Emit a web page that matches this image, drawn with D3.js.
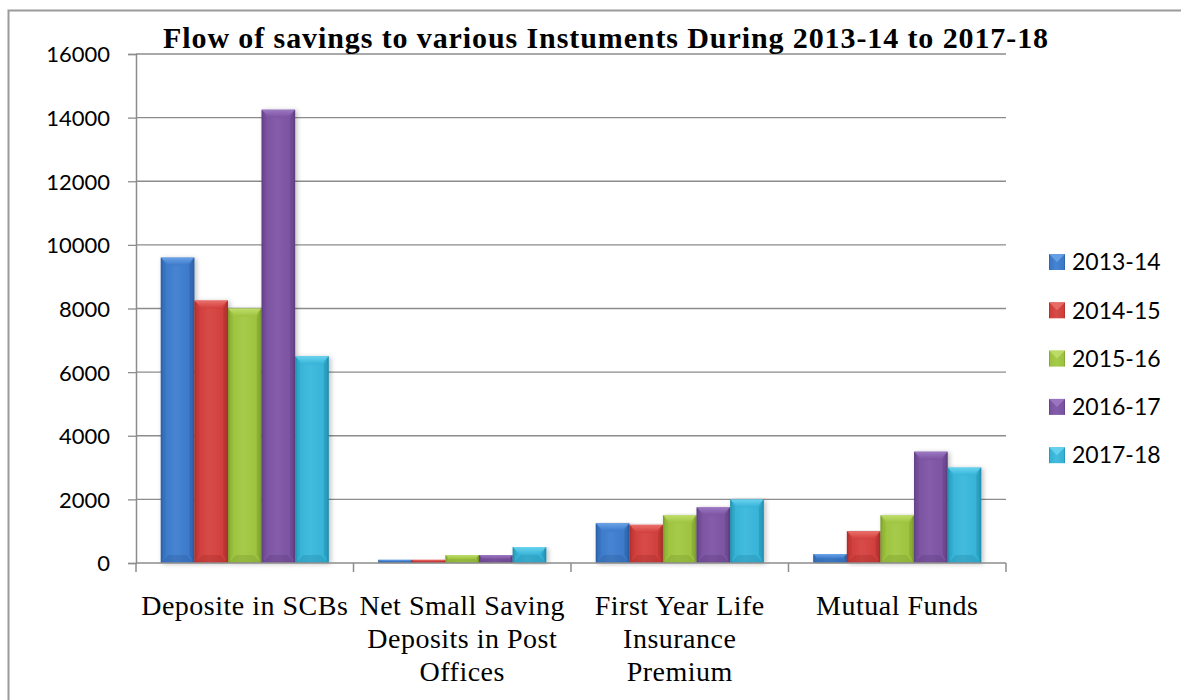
<!DOCTYPE html>
<html>
<head>
<meta charset="utf-8">
<script src="https://cdn.jsdelivr.net/npm/d3@7/dist/d3.min.js"></script>
<style>
  html, body { margin: 0; padding: 0; background: #fff; }
  svg { display: block; }
</style>
</head>
<body>
<svg id="chart" width="1181" height="700"></svg>
<script>
// ---- data ----
const categories = ["Deposite in SCBs", "Net Small Saving Deposits in Post Offices", "First Year Life Insurance Premium", "Mutual Funds"];
const categoryLines = [
  ["Deposite in SCBs"],
  ["Net Small Saving", "Deposits in Post", "Offices"],
  ["First Year Life", "Insurance", "Premium"],
  ["Mutual Funds"]
];
const seriesNames = ["2013-14", "2014-15", "2015-16", "2016-17", "2017-18"];
const s2013 = [9600, 100, 1250, 280];
const s2014 = [8250, 100, 1200, 1000];
const s2015 = [8000, 250, 1500, 1500];
const s2016 = [14250, 250, 1750, 3500];
const s2017 = [6500, 500, 2000, 3000];
const seriesValues = [s2013, s2014, s2015, s2016, s2017];
const yTicks = [0, 2000, 4000, 6000, 8000, 10000, 12000, 14000, 16000];
const title = "Flow of savings to various Instuments During 2013-14 to 2017-18";

// ---- styles ----
const colors = ["#3a78c8", "#cf3d3a", "#9cc23e", "#7a52a0", "#34b2d6"];
const light  = ["#6fa6ea", "#ee7470", "#c3e06e", "#a07cc6", "#6fd6f2"];
const dark   = ["#2a5c9e", "#a72c2a", "#789a2c", "#5c3c7e", "#218aa8"];

const svg = d3.select("#chart");
const margin = { left: 136, right: 1006, top: 54, bottom: 563 };

// frame
svg.append("rect").attr("x", 8.5).attr("y", 10.5).attr("width", 1190).attr("height", 700)
  .attr("fill", "none").attr("stroke", "#9a9a9a").attr("stroke-width", 2);

const x0 = d3.scaleBand().domain(categories).range([margin.left, margin.right]).paddingInner(0).paddingOuter(0);
// group occupies 168/217.5 of each band -> outer padding per side
const groupPad = (x0.bandwidth() - 168) / 2;
const x1 = d3.scaleBand().domain(seriesNames).range([groupPad, x0.bandwidth() - groupPad]).padding(0);
const y = d3.scaleLinear().domain([0, 16000]).range([margin.bottom, margin.top]);

// defs: gradients
const defs = svg.append("defs");
seriesNames.forEach((s, i) => {
  const g = defs.append("linearGradient").attr("id", "g" + i).attr("x1", 0).attr("x2", 1).attr("y1", 0).attr("y2", 0);
  g.append("stop").attr("offset", "0%").attr("stop-color", dark[i]);
  g.append("stop").attr("offset", "8%").attr("stop-color", colors[i]);
  g.append("stop").attr("offset", "45%").attr("stop-color", d3.interpolateRgb(colors[i], light[i])(0.25));
  g.append("stop").attr("offset", "92%").attr("stop-color", colors[i]);
  g.append("stop").attr("offset", "100%").attr("stop-color", dark[i]);
  const t = defs.append("linearGradient").attr("id", "t" + i).attr("x1", 0).attr("x2", 0).attr("y1", 0).attr("y2", 1);
  t.append("stop").attr("offset", "0%").attr("stop-color", light[i]);
  t.append("stop").attr("offset", "100%").attr("stop-color", colors[i]);
});
const shadow = defs.append("filter").attr("id", "shadow").attr("x", "-20%").attr("y", "-5%").attr("width", "150%").attr("height", "115%");
shadow.append("feGaussianBlur").attr("in", "SourceAlpha").attr("stdDeviation", 2.5);
shadow.append("feOffset").attr("dx", 2).attr("dy", 1).attr("result", "b");
shadow.append("feComponentTransfer").append("feFuncA").attr("type", "linear").attr("slope", 0.25);
const fm = shadow.append("feMerge");
fm.append("feMergeNode");
fm.append("feMergeNode").attr("in", "SourceGraphic");

// gridlines
svg.append("g").selectAll("line").data(yTicks.filter(d => d > 0)).join("line")
  .attr("x1", margin.left).attr("x2", margin.right)
  .attr("y1", d => y(d)).attr("y2", d => y(d))
  .attr("stroke", "#8c8c8c").attr("stroke-width", 1.3);

// y axis
const yAxis = svg.append("g").attr("transform", `translate(${margin.left},0)`)
  .call(d3.axisLeft(y).tickValues(yTicks).tickSize(8).tickPadding(18).tickFormat(d3.format("d")));
yAxis.select(".domain").attr("stroke", "#8c8c8c").attr("stroke-width", 1.5);
yAxis.selectAll(".tick line").attr("stroke", "#8c8c8c").attr("stroke-width", 1.3);
yAxis.selectAll(".tick text").attr("font-family", "Lato, 'Open Sans', sans-serif").attr("font-size", 22).attr("fill", "#000").attr("dy", "0.36em");

// bars
const bars = svg.append("g");
categories.forEach((c, ci) => {
  seriesNames.forEach((s, si) => {
    const v = seriesValues[si][ci];
    const bx = x0(c) + x1(s);
    const bw = x1.bandwidth();
    const by = y(v);
    const bh = y(0) - y(v);
    const g = bars.append("g").attr("filter", "url(#shadow)");
    g.append("rect").attr("x", bx).attr("y", by).attr("width", bw).attr("height", bh).attr("fill", `url(#g${si})`);
    const bev = Math.min(8, bh / 2, bw / 4);
    g.append("path").attr("d", `M${bx},${by} L${bx + bw},${by} L${bx + bw - bev},${by + bev} L${bx + bev},${by + bev} Z`)
      .attr("fill", `url(#t${si})`).attr("opacity", 0.9);
    g.append("path").attr("d", `M${bx},${by + bh} L${bx + bw},${by + bh} L${bx + bw - bev},${by + bh - bev} L${bx + bev},${by + bh - bev} Z`)
      .attr("fill", dark[si]).attr("opacity", 0.35);
    g.append("path").attr("d", `M${bx},${by} L${bx + bev * 0.6},${by + bev} L${bx + bev * 0.6},${by + bh - bev} L${bx},${by + bh} Z`)
      .attr("fill", dark[si]).attr("opacity", 0.25);
    g.append("path").attr("d", `M${bx + bw},${by} L${bx + bw - bev * 0.6},${by + bev} L${bx + bw - bev * 0.6},${by + bh - bev} L${bx + bw},${by + bh} Z`)
      .attr("fill", dark[si]).attr("opacity", 0.45);
  });
});

// x axis
const xAxis = svg.append("g").attr("transform", `translate(0,${margin.bottom})`);
xAxis.append("line").attr("x1", margin.left).attr("x2", margin.right).attr("y1", 0).attr("y2", 0)
  .attr("stroke", "#8c8c8c").attr("stroke-width", 1.5);
const boundaries = categories.map(c => x0(c)).concat([margin.right]);
xAxis.selectAll("line.tk").data(boundaries).join("line").attr("class", "tk")
  .attr("x1", d => d).attr("x2", d => d).attr("y1", 0).attr("y2", 9)
  .attr("stroke", "#8c8c8c").attr("stroke-width", 1.5);

// category labels
categories.forEach((c, ci) => {
  const t = svg.append("text").attr("x", x0(c) + x0.bandwidth() / 2).attr("y", 615)
    .attr("text-anchor", "middle").attr("font-family", "'Liberation Serif', 'Times New Roman', serif")
    .attr("font-size", 28).attr("letter-spacing", 0.5).attr("fill", "#000");
  categoryLines[ci].forEach((ln, li) => {
    t.append("tspan").attr("x", x0(c) + x0.bandwidth() / 2).attr("dy", li === 0 ? 0 : 33).text(ln);
  });
});

// title
svg.append("text").attr("x", 606).attr("y", 48).attr("text-anchor", "middle")
  .attr("font-family", "'Liberation Serif', 'Times New Roman', serif").attr("font-weight", "bold")
  .attr("font-size", 30).attr("letter-spacing", 0.9).attr("fill", "#000").text(title);

// legend
const legend = svg.append("g");
seriesNames.forEach((s, i) => {
  const ly = 262 + i * 48.3;
  legend.append("rect").attr("x", 1049).attr("y", ly - 8).attr("width", 16).attr("height", 16).attr("fill", `url(#g${i})`);
  legend.append("path").attr("d", `M1049,${ly - 8} L1065,${ly - 8} L1057,${ly} Z`).attr("fill", light[i]).attr("opacity", 0.8);
  legend.append("text").attr("x", 1072).attr("y", ly).attr("dy", "0.36em")
    .attr("font-family", "Lato, 'Open Sans', sans-serif").attr("font-size", 23).attr("fill", "#000").text(s);
});
</script>
</body>
</html>
